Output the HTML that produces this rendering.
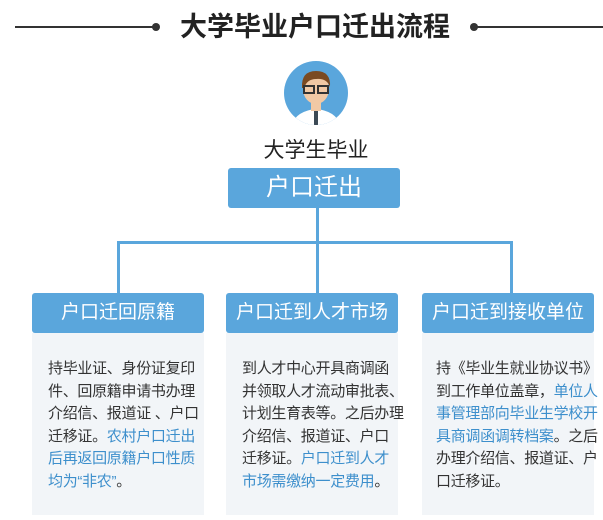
<!DOCTYPE html>
<html><head><meta charset="utf-8"><style>
*{margin:0;padding:0;box-sizing:border-box}
body{width:603px;height:520px;background:#fff;position:relative;overflow:hidden;font-family:"Liberation Sans","Noto Sans CJK SC",sans-serif}
.a{position:absolute}
.hd{position:absolute;background:#5aa6dc;color:#fff;font-size:19px;text-align:center;line-height:40px;border-radius:3px;height:40px;top:293px;white-space:nowrap}
.bd{position:absolute;background:#f2f5f8;top:333px;height:182px;padding:25px 0 0 16px;font-size:15px;line-height:22.6px;color:#333;white-space:nowrap;letter-spacing:-0.3px}
.bd b{font-weight:normal;color:#3d8fcc}
.ln{position:absolute;background:#5aa6dc}
</style></head><body>
<div class="a" style="left:15px;top:26px;width:140px;height:2px;background:#333"></div>
<div class="a" style="left:152px;top:23px;width:8px;height:8px;border-radius:50%;background:#333"></div>
<div class="a" style="left:470px;top:23px;width:8px;height:8px;border-radius:50%;background:#333"></div>
<div class="a" style="left:475px;top:26px;width:128px;height:2px;background:#333"></div>
<div class="a" style="left:160px;top:10px;width:310px;text-align:center;font-size:27px;font-weight:bold;color:#222;line-height:34px">大学毕业户口迁出流程</div>
<svg class="a" style="left:283px;top:61px" width="66" height="66" viewBox="0 0 66 66">
<defs><clipPath id="c"><circle cx="33" cy="32" r="32"/></clipPath></defs>
<circle cx="33" cy="32" r="32" fill="#5aa6dc"/>
<g clip-path="url(#c)">
<path d="M8 66 Q12 50 33 48 Q54 50 58 66Z" fill="#fff"/>
<rect x="28" y="38" width="10" height="12" fill="#f1c9a5"/>
<ellipse cx="33" cy="28" rx="13" ry="15" fill="#f1c9a5"/>
<path d="M19 27 Q18 10 33 10 Q48 10 47 26 Q44 17 33 18 Q24 18 21 27Z" fill="#7a4a22"/>
<rect x="21" y="25" width="10" height="7" fill="none" stroke="#333" stroke-width="2"/>
<rect x="35" y="25" width="10" height="7" fill="none" stroke="#333" stroke-width="2"/>
<rect x="31" y="50" width="4" height="14" fill="#3c4a55"/>
</g></svg>
<div class="a" style="left:240px;top:134px;width:152px;text-align:center;font-size:21px;color:#222">大学生毕业</div>
<div class="a" style="left:228px;top:168px;width:172px;height:40px;background:#5aa6dc;border-radius:3px;color:#fff;font-size:24px;text-align:center;line-height:40px">户口迁出</div>
<div class="ln" style="left:316px;top:208px;width:3px;height:35px"></div>
<div class="ln" style="left:117px;top:241px;width:396px;height:3px"></div>
<div class="ln" style="left:117px;top:241px;width:3px;height:52px"></div>
<div class="ln" style="left:316px;top:241px;width:3px;height:52px"></div>
<div class="ln" style="left:510px;top:241px;width:3px;height:52px"></div>
<div class="hd" style="left:32px;width:172px">户口迁回原籍</div>
<div class="hd" style="left:226px;width:172px">户口迁到人才市场</div>
<div class="hd" style="left:422px;width:172px">户口迁到接收单位</div>
<div class="bd" style="left:32px;width:172px">持毕业证、身份证复印<br>件、回原籍申请书办理<br>介绍信、报道证 、户口<br>迁移证。<b>农村户口迁出</b><br><b>后再返回原籍户口性质</b><br><b>均为“非农”</b>。</div>
<div class="bd" style="left:226px;width:172px">到人才中心开具商调函<br>并领取人才流动审批表、<br>计划生育表等。之后办理<br>介绍信、报道证、户口<br>迁移证。<b>户口迁到人才</b><br><b>市场需缴纳一定费用</b>。</div>
<div class="bd" style="left:422px;width:172px;padding-left:14px">持《毕业生就业协议书》<br>到工作单位盖章，<b>单位人</b><br><b>事管理部向毕业生学校开</b><br><b>具商调函调转档案</b>。之后<br>办理介绍信、报道证、户<br>口迁移证。</div>
</body></html>
